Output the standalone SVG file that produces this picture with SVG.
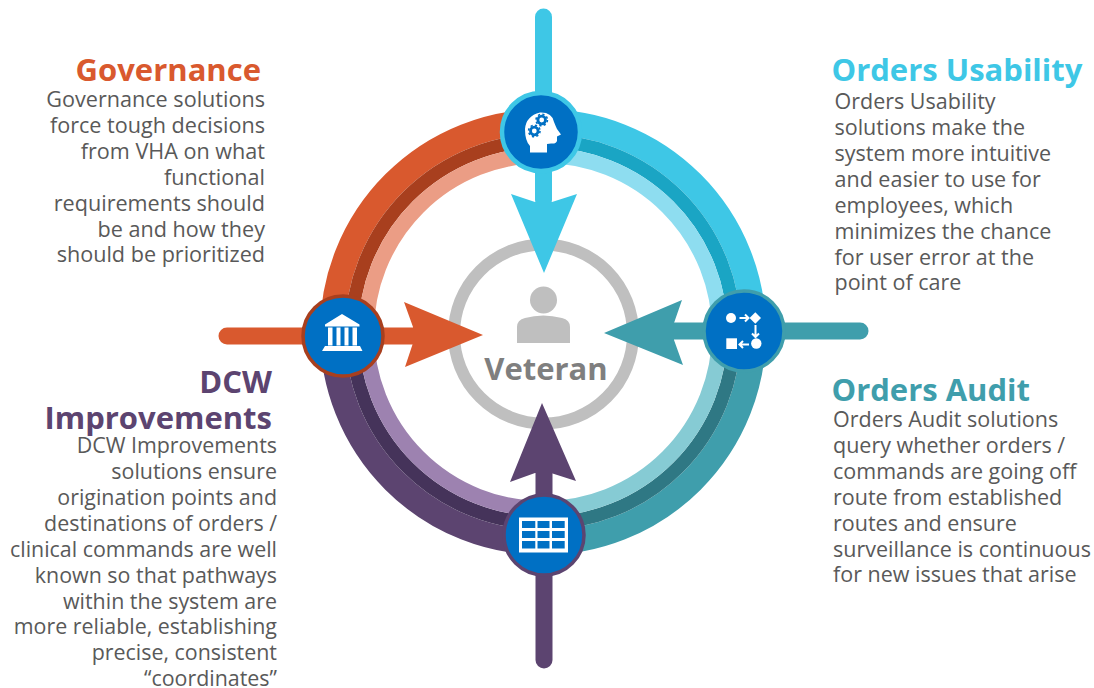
<svg xmlns="http://www.w3.org/2000/svg" width="1094" height="688" viewBox="0 0 1094 688">
<style>
text{font-family:"Open Sans","Noto Sans","Liberation Sans",sans-serif}
.b{font-size:21.6px;fill:#595959}
#dcw-improvements .b{font-size:21.42px}
#orders-usability .b,#orders-audit .b{font-size:21.5px}
.t{font-size:31px;font-weight:700}
.e{text-anchor:end}
.w{fill:#fff}
.l{stroke:#fff;stroke-width:2;fill:none}
.arc{fill:none}
.m{stroke-width:25}
.d{stroke-width:13.5}
.s{stroke-width:15.5}
</style>
<rect width="1094" height="688" fill="#fff"/>
<g id="connectors">
<g id="ring-orange" class="arc">
<path class="m" d="M332.500 332A210.500 210.500 0 0 1 543 121.500" stroke="#D9592E"/>
<path class="d" d="M351.750 332A191.250 191.250 0 0 1 543 140.750" stroke="#A83F1E"/>
<path class="s" d="M366.250 332A176.750 176.750 0 0 1 543 155.250" stroke="#EB9D85"/>
</g>
<g id="ring-cyan" class="arc">
<path class="m" d="M543 121.500A210.500 210.500 0 0 1 753.500 332" stroke="#3EC7E6"/>
<path class="d" d="M543 140.750A191.250 191.250 0 0 1 734.250 332" stroke="#1AA5C4"/>
<path class="s" d="M543 155.250A176.750 176.750 0 0 1 719.750 332" stroke="#8EDDF0"/>
</g>
<g id="ring-teal" class="arc">
<path class="m" d="M753.500 332A210.500 210.500 0 0 1 543 542.500" stroke="#3F9EAC"/>
<path class="d" d="M734.250 332A191.250 191.250 0 0 1 543 523.250" stroke="#2F7884"/>
<path class="s" d="M719.750 332A176.750 176.750 0 0 1 543 508.750" stroke="#86CBD4"/>
</g>
<g id="ring-purple" class="arc">
<path class="m" d="M543 542.500A210.500 210.500 0 0 1 332.500 332" stroke="#5C4470"/>
<path class="d" d="M543 523.250A191.250 191.250 0 0 1 351.750 332" stroke="#45335A"/>
<path class="s" d="M543 508.750A176.750 176.750 0 0 1 366.250 332" stroke="#9D82B0"/>
</g>
</g>
<g id="veteran">
<circle cx="543.500" cy="334" r="89.500" fill="none" stroke="#BFBFBF" stroke-width="12"/>
<circle cx="543.500" cy="300" r="13.500" fill="#BFBFBF"/>
<path d="M517 343V327Q517 320 525 318Q543 313 562 318Q570 320 570 327V343Z" fill="#BFBFBF"/>
<text x="546" y="380" text-anchor="middle" font-size="31" font-weight="700" fill="#7F7F7F">Veteran</text>
</g>
<g id="arrows">
<path d="M543.500 17V200" stroke="#3EC7E6" stroke-width="17" stroke-linecap="round" fill="none"/>
<path d="M511 194L535 202H552L577 194L544 273Z" fill="#3EC7E6"/>
<path d="M227 336H415" stroke="#D9592E" stroke-width="17" stroke-linecap="round" fill="none"/>
<path d="M404 302L413 327V343L405 367L483 335Z" fill="#D9592E"/>
<path d="M860 331H672" stroke="#3F9EAC" stroke-width="17" stroke-linecap="round" fill="none"/>
<path d="M682 300L674 323V340L683 365L604 333Z" fill="#3F9EAC"/>
<path d="M544 660V470" stroke="#5C4470" stroke-width="17" stroke-linecap="round" fill="none"/>
<path d="M510 482L535 473H551L576 481L542 403Z" fill="#5C4470"/>
</g>
<g id="node-top">
<circle cx="541" cy="132" r="39" fill="#0070C4" stroke="#3EC7E6" stroke-width="4.500"/>
<path class="w" d="M530 152.500V146Q525 141 525 129Q526 116 540 112.500Q552 112 554 122Q556 127 557 129L561 134.500L557 136.500V141Q556 144 551 143.500L547 144V152.500Z"/>
<circle cx="541.700" cy="120" r="3.800" fill="none" stroke="#0070C4" stroke-width="2.800"/>
<circle cx="541.700" cy="120" r="5.700" fill="none" stroke="#0070C4" stroke-width="1.600" stroke-dasharray="2.200 2.270"/>
<circle cx="534.300" cy="131" r="3.800" fill="none" stroke="#0070C4" stroke-width="2.800"/>
<circle cx="534.300" cy="131" r="5.700" fill="none" stroke="#0070C4" stroke-width="1.600" stroke-dasharray="2.200 2.270"/>
</g>
<g id="node-left">
<circle cx="343" cy="336" r="40" fill="#0070C4" stroke="#A83F1E" stroke-width="3.500"/>
<path class="w" d="M342 314L359.500 324.500V326.500H325V324.500ZM328 327.500H332.500V345.500H328ZM336.500 327.500H340.500V345.500H336.500ZM344.500 327.500H348.500V345.500H344.500ZM352.500 327.500H357V345.500H352.500ZM325 346H360L362.500 351H322Z"/>
</g>
<g id="node-right">
<circle cx="744" cy="331" r="40" fill="#0070C4" stroke="#3F9EAC" stroke-width="3.500"/>
<circle class="w" cx="731" cy="318" r="5"/>
<path class="w" d="M755.300 312.300L761 318L755.300 323.700L749.600 318Z"/>
<circle class="w" cx="756.300" cy="343.500" r="5.200"/>
<rect class="w" x="726.300" y="338.300" width="10.700" height="10.700"/>
<path class="l" d="M739.500 318H748M745 314.500L748.500 318L745 321.500M755.500 325V336.500M752 333.500L755.500 337L759 333.500M749 344.500H739.500M743 341L739.500 344.500L743 348"/>
</g>
<g id="node-bottom">
<circle cx="544" cy="535" r="40" fill="#0070C4" stroke="#5C4470" stroke-width="3.500"/>
<path class="w" fill-rule="evenodd" d="M519 517.500H568V552.500H519ZM522 521V528H535.300V521ZM537.500 521V528H549.500V521ZM552 521V528H564.700V521ZM522 531V538H535.300V531ZM537.500 531V538H549.500V531ZM552 531V538H564.700V531ZM522 541V548.500H535.300V541ZM537.500 541V548.500H549.500V541ZM552 541V548.500H564.700V541Z"/>
</g>
<g id="governance">
<text class="t e" x="261" y="81" fill="#D9592E">Governance</text>
<text class="b e" x="265" y="107">Governance solutions</text>
<text class="b e" x="265" y="133">force tough decisions</text>
<text class="b e" x="265" y="159">from VHA on what</text>
<text class="b e" x="265" y="185">functional</text>
<text class="b e" x="265" y="211">requirements should</text>
<text class="b e" x="265" y="237">be and how they</text>
<text class="b e" x="265" y="262">should be prioritized</text>
</g>
<g id="orders-usability">
<text class="t" x="831.500" y="81" fill="#3EC7E6">Orders Usability</text>
<text class="b" x="834.500" y="109">Orders Usability</text>
<text class="b" x="834.500" y="135">solutions make the</text>
<text class="b" x="834.500" y="161">system more intuitive</text>
<text class="b" x="834.500" y="187">and easier to use for</text>
<text class="b" x="834.500" y="213">employees, which</text>
<text class="b" x="834.500" y="239">minimizes the chance</text>
<text class="b" x="834.500" y="265">for user error at the</text>
<text class="b" x="834.500" y="290">point of care</text>
</g>
<g id="dcw-improvements">
<text class="t e" x="272" y="393" fill="#5C4470">DCW</text>
<text class="t e" x="272" y="429" fill="#5C4470">Improvements</text>
<text class="b e" x="277" y="453">DCW Improvements</text>
<text class="b e" x="277" y="479">solutions ensure</text>
<text class="b e" x="277" y="505">origination points and</text>
<text class="b e" x="277" y="531">destinations of orders /</text>
<text class="b e" x="277" y="557">clinical commands are well</text>
<text class="b e" x="277" y="583">known so that pathways</text>
<text class="b e" x="277" y="609">within the system are</text>
<text class="b e" x="277" y="634">more reliable, establishing</text>
<text class="b e" x="277" y="660">precise, consistent</text>
<text class="b e" x="277" y="686">“coordinates”</text>
</g>
<g id="orders-audit">
<text class="t" x="831.500" y="401" fill="#3F9EAC">Orders Audit</text>
<text class="b" x="833" y="427">Orders Audit solutions</text>
<text class="b" x="833" y="453">query whether orders /</text>
<text class="b" x="833" y="479">commands are going off</text>
<text class="b" x="833" y="505">route from established</text>
<text class="b" x="833" y="531">routes and ensure</text>
<text class="b" x="833" y="557">surveillance is continuous</text>
<text class="b" x="833" y="582">for new issues that arise</text>
</g>
</svg>
